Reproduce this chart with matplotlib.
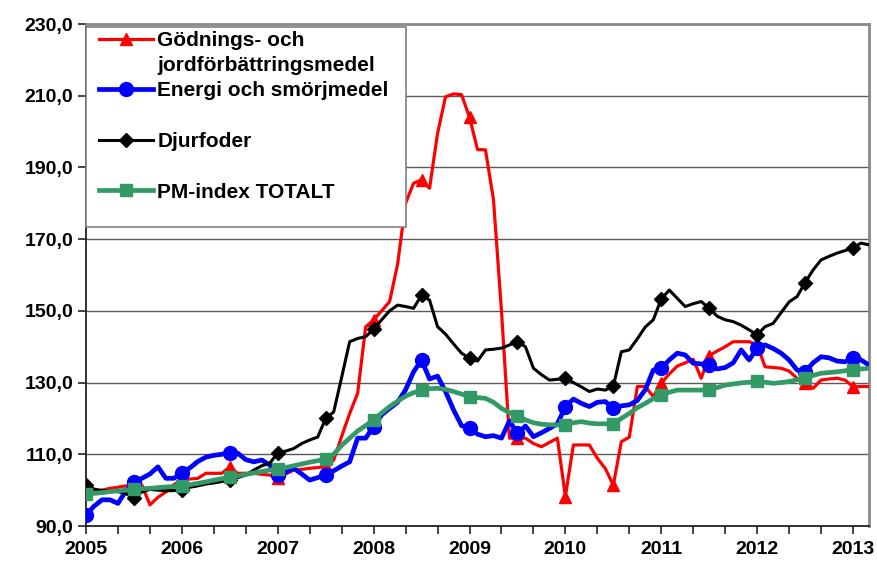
import matplotlib
matplotlib.use("Agg")
import matplotlib.pyplot as plt
from matplotlib.lines import Line2D
from matplotlib.patches import Rectangle
from matplotlib.ticker import FixedLocator, FuncFormatter

plt.rcParams['font.family'] = ['Liberation Sans', 'DejaVu Sans']
plt.rcParams['font.weight'] = 'bold'

# Monthly index values, Jan 2005 .. Mar 2013 (99 months)
years = [2005, 2006, 2007, 2008, 2009, 2010, 2011, 2012, 2013]

godning = [
    99.1, 99.5, 100.0, 100.5, 100.8, 101.2, 101.3, 101.4, 95.9, 98.0, 99.5, 101.5,
    102.8, 103.1, 103.3, 104.7, 104.7, 104.7, 106.5, 104.7, 104.7, 104.7, 104.4, 104.2,
    103.5, 104.5, 105.6, 105.8, 106.1, 106.3, 106.6, 108.4, 115.0, 121.4, 127.0, 145.5,
    147.5, 150.0, 152.6, 163.0, 180.0, 185.6, 186.5, 184.2, 199.5, 209.7, 210.5, 210.3,
    204.0, 195.0, 194.9, 181.0, 150.0, 114.5, 114.5, 114.5, 113.0, 112.1, 113.3, 114.5,
    98.2, 112.6, 112.6, 112.6, 108.9, 106.0, 101.4, 113.5, 114.8, 128.9, 128.9, 126.1,
    129.8, 132.4, 134.6, 135.5, 136.5, 131.2, 137.5, 138.8, 140.0, 141.4, 141.4, 141.4,
    140.5, 134.4, 134.2, 134.0, 133.2, 131.2, 130.0, 128.4, 130.7, 131.0, 131.2, 130.7,
    128.9, 128.9, 128.9,
]

energi = [
    93.1, 95.5, 97.3, 97.3, 96.3, 99.8, 102.4, 103.3, 104.5, 106.5, 103.3, 103.3,
    104.9, 106.2, 108.0, 109.2, 109.7, 110.0, 110.4, 110.3, 108.5, 107.9, 108.4, 107.0,
    104.2, 105.0, 106.1, 104.5, 102.8, 103.5, 104.2, 105.4, 106.7, 107.9, 114.5, 114.5,
    117.7, 121.0, 122.8, 124.5, 128.0, 133.0, 136.3, 131.0, 131.8, 127.5, 122.4, 118.0,
    117.2, 115.6, 114.9, 115.2, 114.5, 119.3, 115.8, 117.9, 114.9, 116.0, 117.2, 118.5,
    123.3, 125.4, 124.2, 123.3, 124.5, 124.7, 122.8, 123.5, 123.8, 125.0, 128.0, 133.5,
    134.0, 136.3, 138.2, 137.7, 135.4, 135.2, 134.9, 133.8, 134.2, 135.5, 139.1, 136.3,
    139.6, 140.5, 139.5, 138.2, 136.3, 133.5, 133.0, 135.5, 137.2, 136.9, 136.0, 135.8,
    136.8, 136.3, 134.9,
]

djurfoder = [
    101.4, 100.3, 99.9, 99.7, 99.6, 99.0, 97.8, 99.5, 100.2, 100.0, 99.8, 99.9,
    100.0, 100.8, 101.2, 101.7, 102.0, 102.4, 102.8, 103.5, 104.2, 105.6, 106.8, 107.5,
    110.4, 110.9, 111.6, 113.0, 114.0, 114.8, 120.0, 121.8, 131.5, 141.4, 142.3, 142.8,
    144.9, 147.5, 150.0, 151.6, 151.2, 150.7, 154.4, 153.0, 145.6, 143.5, 140.8, 138.2,
    136.8, 136.0, 139.1, 139.3, 139.6, 140.5, 141.4, 140.0, 134.0, 132.2, 130.7, 130.9,
    131.2, 130.0, 128.8, 127.5, 128.2, 127.9, 129.0, 138.6, 139.1, 142.2, 145.5, 147.5,
    153.3, 155.8, 153.5, 151.2, 152.0, 152.6, 150.7, 148.5, 147.5, 147.0, 146.0, 144.7,
    143.3, 145.6, 146.5, 149.5, 152.5, 154.0, 157.9, 161.4, 164.2, 165.2, 166.1, 166.8,
    167.6, 168.9, 168.4,
]

pm_total = [
    98.9, 99.1, 99.3, 99.6, 99.8, 100.0, 100.2, 100.4, 100.5, 100.7, 100.9, 101.0,
    101.2, 101.5, 101.9, 102.3, 102.8, 103.2, 103.6, 104.0, 104.4, 104.8, 105.2, 105.6,
    105.9, 106.3, 106.8, 107.3, 107.8, 108.2, 108.6, 110.0, 112.5, 114.5, 116.5, 118.0,
    119.6, 121.5, 123.3, 124.8, 126.2, 127.2, 127.9, 128.3, 128.4, 128.1, 127.5, 126.8,
    126.1, 125.8, 125.6, 124.5, 122.8, 121.6, 120.7, 119.6, 118.8, 118.4, 118.2, 118.2,
    118.2, 118.8, 119.1, 118.7, 118.5, 118.5, 118.5, 120.0, 121.4, 123.0, 124.2, 125.5,
    126.5, 127.3, 127.9, 127.9, 127.9, 127.9, 128.0, 128.6, 129.3, 129.6, 129.9, 130.1,
    130.3, 130.1, 129.8, 130.0, 130.3, 130.8, 131.2, 132.0, 132.6, 132.8, 133.0, 133.3,
    133.5, 133.8, 134.0,
]

series_labels = ["Gödnings- och", "jordförbättringsmedel", "Energi och smörjmedel",
                 "Djurfoder", "PM-index TOTALT"]
y_ticks = [90, 110, 130, 150, 170, 190, 210, 230]

months = list(range(len(pm_total)))

W, H = 878, 561
fig = plt.figure(figsize=(W / 100, H / 100), dpi=100)
ax = fig.add_axes([86 / W, 1 - 526 / H, (869 - 86) / W, (526 - 24) / H])

l_red, = ax.plot(months, godning, color='#FF0000', lw=2.3, marker='^', ms=9,
                 markevery=6, zorder=3)
l_blue, = ax.plot(months, energi, color='#0000FF', lw=3.4, marker='o', ms=10,
                  markevery=6, zorder=4)
l_black, = ax.plot(months, djurfoder, color='#000000', lw=2.2, marker='D', ms=7,
                   markevery=6, zorder=5)
l_green, = ax.plot(months, pm_total, color='#339966', lw=3.4, marker='s', ms=9,
                   markevery=6, zorder=6)

ax.set_xlim(0, len(months) - 1)
ax.set_ylim(90, 230)

ax.yaxis.set_major_locator(FixedLocator(y_ticks))
ax.yaxis.set_major_formatter(FuncFormatter(lambda v, p: f"{v:.1f}".replace('.', ',')))
ax.xaxis.set_major_locator(FixedLocator([(y - years[0]) * 12 for y in years]))
ax.xaxis.set_major_formatter(FuncFormatter(lambda v, p: str(years[0] + int(round(v / 12)))))
ax.xaxis.set_minor_locator(FixedLocator(list(range(0, len(months), 4))))

ax.tick_params(axis='both', which='both', direction='out', length=6, width=1.2,
               color='#222222', labelsize=14)
ax.tick_params(axis='y', pad=3)
ax.tick_params(axis='x', pad=5)
for lab in ax.get_xticklabels() + ax.get_yticklabels():
    lab.set_fontweight('bold')

ax.grid(axis='y', color='#5a5a5a', lw=1.0)
ax.set_axisbelow(True)
for s in ['left', 'bottom']:
    ax.spines[s].set_color('#222222')
    ax.spines[s].set_linewidth(1.3)
for s in ['top', 'right']:
    ax.spines[s].set_color('#8a8a8a')
    ax.spines[s].set_linewidth(2.0)

# legend frame (white box over the plot)
fig.add_artist(Rectangle((86 / W, 1 - 227 / H), 320 / W, 200 / H,
                         transform=fig.transFigure, facecolor='white',
                         edgecolor='#808080', lw=1.2, zorder=4))
blank = Line2D([], [], linestyle='none')
handles = [l_red, blank, l_blue, blank, l_black, blank, l_green]
labels = [series_labels[0], series_labels[1], series_labels[2], " ",
          series_labels[3], " ", series_labels[4]]
fig.legend(handles, labels, loc='upper left', bbox_to_anchor=(99 / W, 1 - 31 / H),
           frameon=False, borderpad=0, borderaxespad=0, handlelength=2.6,
           handletextpad=0.2, labelspacing=0.3, numpoints=1,
           prop={'family': 'Liberation Sans', 'weight': 'bold', 'size': 15})

fig.savefig('out.png', dpi=100)
